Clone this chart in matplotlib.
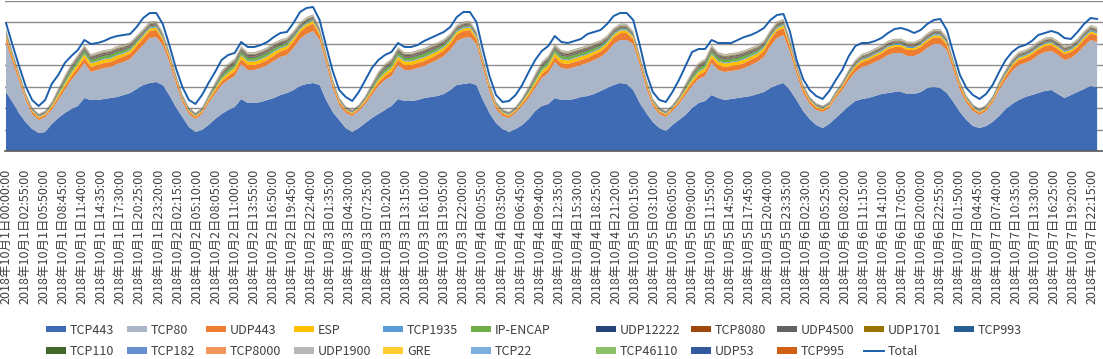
## stacked traffic by protocol, 2018/10/1 - 10/7, hourly values
import datetime
import matplotlib
matplotlib.use('Agg')
import matplotlib.pyplot as plt
from matplotlib.ticker import MultipleLocator

plt.rcParams['font.family'] = ['Noto Sans CJK JP', 'DejaVu Sans']

## series names (stacked bottom to top) and colours
names = ['TCP443', 'TCP80', 'UDP443', 'ESP', 'TCP1935', 'IP-ENCAP', 'UDP12222',
         'TCP8080', 'UDP4500', 'UDP1701', 'TCP993', 'TCP110', 'TCP182', 'TCP8000',
         'UDP1900', 'GRE', 'TCP22', 'TCP46110', 'UDP53', 'TCP995']
colors = ['#3f6bb5', '#aab6c8', '#ed7d31', '#ffc000', '#5b9bd5', '#70ad47', '#264478',
          '#9e480e', '#636363', '#997300', '#255e91', '#43682b', '#698ed0', '#f1975a',
          '#b7b7b7', '#ffcd33', '#7cafdd', '#8cc168', '#335aa1', '#d26012']

## hourly values (one row per day)
tcp443 = [
    59,49,38,29,22,18,19,27,33,38,42,45,53,51,51,52,53,54,56,58,62,66,68,69,
    66,56,44,34,24,19,21,26,32,37,41,44,52,48,48,49,51,53,56,58,61,65,67,68,
    66,51,39,31,23,19,23,28,33,37,41,45,52,50,50,51,53,54,55,57,61,66,67,68,
    66,51,38,28,22,19,22,26,32,40,45,47,53,51,51,52,54,55,57,60,63,66,68,67,
    61,48,38,29,23,20,26,31,36,43,48,50,56,53,51,52,53,54,55,57,59,63,66,68,
    61,51,40,32,26,23,27,33,39,45,50,52,53,55,57,58,59,59,57,57,59,63,64,63,
    58,49,39,31,25,23,25,29,35,42,47,51,54,56,58,60,61,57,53,56,59,62,65,64]
tcp80 = [
    50,40,32,22,15,13,15,14,18,23,29,34,35,28,30,31,31,33,33,34,37,40,45,45,
    40,33,24,15,13,13,16,22,25,29,30,31,35,33,33,34,35,37,38,38,42,47,50,52,
    45,37,24,15,15,16,17,19,23,28,30,30,34,31,31,32,32,34,36,38,40,44,46,46,
    41,32,21,14,13,14,16,19,21,23,28,31,36,32,31,32,32,33,34,34,36,41,43,44,
    46,38,25,16,14,14,14,16,20,22,24,25,32,28,28,28,28,29,31,32,35,42,47,48,
    38,26,18,15,15,16,16,20,22,26,29,32,33,34,35,38,39,39,38,38,39,40,43,44,
    43,32,22,17,15,13,15,19,26,29,33,35,34,35,38,39,39,39,38,37,39,43,46,45]
udp443 = [
    5,4.5,4,3,2.5,2,2,2.5,3,3.5,4,4.5,5,5,5,5,5,5,5.5,5.5,6,6.5,7,7,
    5,4.5,4,3,2.5,2,2,2.5,3,3.5,4,4.5,5,5,5,5,5,5.5,5.5,6,6.5,7,7.5,7.5,
    5,4.5,4,3,2.5,2,2,2.5,3,3.5,4,4.5,5,5,5,5,5,5,5.5,5.5,6,6.5,7,7,
    5,4.5,4,3,2.5,2,2,2.5,3,3.5,4,4.5,5,5,5,5,5,5,5.5,5.5,6,6.5,7,7,
    5,4.5,4,3,2.5,2,2,2.5,3,3.5,4,4.5,5,5,5,5,5,5,5.5,5.5,6,6.5,7,7,
    5,4.5,4,3,2.5,2,2,2.5,3,4,4.5,5,5,5.5,5.5,6,6,6,6,6,6,6.5,6.5,6.5,
    5,4.5,4,3,2.5,2,2,2.5,3,4,4.5,5,5,5.5,5.5,6,6,6,6,6,6,6.5,6.5,6.5]
esp = [
    2,1.8,1.5,1.2,1,1,1,1.5,2,2.5,3,3.5,3.5,3.5,3.5,3.5,3.5,3.5,3,3,3,2.5,2.5,2.5,
    2,1.8,1.5,1.2,1,1,1,1.5,2,2.5,3,3.5,3.5,3.5,3.5,3.5,3.5,3.5,3,3,3,2.5,2.5,2.5,
    2,1.8,1.5,1.2,1,1,1,1.5,2,2.5,3,3.5,3.5,3.5,3.5,3.5,3.5,3.5,3,3,3,2.5,2.5,2.5,
    2,1.8,1.5,1.2,1,1,1,1.5,2,2.5,3,3.5,3.5,3.5,3.5,3.5,3.5,3.5,3,3,3,2.5,2.5,2.5,
    2,1.8,1.5,1.2,1,1,1,1.5,2,2.5,3,3.5,3.5,3.5,3.5,3.5,3.5,3.5,3,3,3,2.5,2.5,2.5,
    2,1.8,1.5,1.2,1,1,1,1.2,1.5,1.5,2,2,2,2,2,2,2,2,2,2,2,2,2,2,
    2,1.8,1.5,1.2,1,1,1,1.2,1.5,1.5,2,2,2,2,2,2,2,2,2,2,2,2,2,2]
tcp1935 = [
    .8,.7,.6,.5,.5,.5,.5,.5,.6,.7,.8,.8,.8,.8,.8,.8,.8,.9,.9,1,1,1,1,1,
    .8,.7,.6,.5,.5,.5,.5,.5,.6,.7,.8,.8,.8,.8,.8,.8,.8,.9,.9,1,1,1,1,1,
    .8,.7,.6,.5,.5,.5,.5,.5,.6,.7,.8,.8,.8,.8,.8,.8,.8,.9,.9,1,1,1,1,1,
    .8,.7,.6,.5,.5,.5,.5,.5,.6,.7,.8,.8,.8,.8,.8,.8,.8,.9,.9,1,1,1,1,1,
    .8,.7,.6,.5,.5,.5,.5,.5,.6,.7,.8,.8,.8,.8,.8,.8,.8,.9,.9,1,1,1,1,1,
    .8,.7,.6,.5,.5,.5,.5,.5,.6,.7,.8,.9,1,1,1,1,1,1,1,1,1,1.2,1.2,1.2,
    .8,.7,.6,.5,.5,.5,.5,.5,.6,.7,.8,.9,1,1,1,1,1,1,1,1,1,1.2,1.2,1.2]
ipencap = [
    .5,.4,.3,.3,.3,.3,.3,.6,1.5,2.5,3,3,3,3,3,3,3,3,2.5,2,1.5,1.2,1,.8,
    .6,.4,.3,.3,.3,.3,.3,.6,1.5,2.5,3,3,3,3,3,3,3,3,2.5,2,1.5,1.2,1,.8,
    .6,.4,.3,.3,.3,.3,.3,.6,1.5,2.5,3,3,3,3,3,3,3,3,2.5,2,1.5,1.2,1,.8,
    .6,.4,.3,.3,.3,.3,.3,.6,1.5,2.5,3,3,3,3,3,3,3,3,2.5,2,1.5,1.2,1,.8,
    .6,.4,.3,.3,.3,.3,.3,.6,1.5,2.5,3,3,3,3,3,3,3,3,2.5,2,1.5,1.2,1,.8,
    .6,.3,.3,.3,.3,.3,.3,.3,.4,.4,.5,.5,.5,.5,.5,.5,.5,.5,.5,.5,.5,.5,.5,.5,
    .5,.3,.3,.3,.3,.3,.3,.3,.4,.4,.5,.5,.5,.5,.5,.5,.5,.5,.5,.5,.5,.5,.5,.5]
udp12222 = [
    .5,.4,.3,.3,.3,.3,.3,.4,.6,.8,.8,.8,.8,.8,.8,.8,.8,.8,.8,.8,.7,.7,.7,.6,
    .5,.4,.3,.3,.3,.3,.3,.4,.6,.8,.8,.8,.8,.8,.8,.8,.8,.8,.8,.8,.7,.7,.7,.6,
    .5,.4,.3,.3,.3,.3,.3,.4,.6,.8,.8,.8,.8,.8,.8,.8,.8,.8,.8,.8,.7,.7,.7,.6,
    .5,.4,.3,.3,.3,.3,.3,.4,.6,.8,.8,.8,.8,.8,.8,.8,.8,.8,.8,.8,.7,.7,.7,.6,
    .5,.4,.3,.3,.3,.3,.3,.4,.6,.8,.8,.8,.8,.8,.8,.8,.8,.8,.8,.8,.7,.7,.7,.6,
    .5,.4,.3,.3,.3,.3,.3,.3,.4,.5,.5,.5,.5,.5,.5,.5,.5,.5,.5,.5,.5,.5,.5,.5,
    .5,.4,.3,.3,.3,.3,.3,.3,.4,.5,.5,.5,.5,.5,.5,.5,.5,.5,.5,.5,.5,.5,.5,.5]
tcp8080 = [
    .5,.4,.4,.3,.3,.3,.3,.4,.5,.6,.7,.7,.7,.7,.7,.7,.7,.7,.7,.7,.6,.6,.6,.6,
    .5,.4,.4,.3,.3,.3,.3,.4,.5,.6,.7,.7,.7,.7,.7,.7,.7,.7,.7,.7,.6,.6,.6,.6,
    .5,.4,.4,.3,.3,.3,.3,.4,.5,.6,.7,.7,.7,.7,.7,.7,.7,.7,.7,.7,.6,.6,.6,.6,
    .5,.4,.4,.3,.3,.3,.3,.4,.5,.6,.7,.7,.7,.7,.7,.7,.7,.7,.7,.7,.6,.6,.6,.6,
    .5,.4,.4,.3,.3,.3,.3,.4,.5,.6,.7,.7,.7,.7,.7,.7,.7,.7,.7,.7,.6,.6,.6,.6,
    .5,.4,.3,.3,.3,.3,.3,.3,.4,.5,.5,.6,.6,.6,.6,.6,.6,.6,.6,.6,.6,.6,.6,.6,
    .5,.4,.3,.3,.3,.3,.3,.3,.4,.5,.5,.6,.6,.6,.6,.6,.6,.6,.6,.6,.6,.6,.6,.6]
udp4500 = [
    1,.9,.8,.7,.7,.7,.7,.8,1,1.2,1.3,1.3,1.3,1.3,1.3,1.3,1.3,1.2,1.2,1.1,1.1,1,1,1,
    1,.9,.8,.7,.7,.7,.7,.8,1,1.2,1.3,1.3,1.3,1.3,1.3,1.3,1.3,1.2,1.2,1.1,1.1,1,1,1,
    1,.9,.8,.7,.7,.7,.7,.8,1,1.2,1.3,1.3,1.3,1.3,1.3,1.3,1.3,1.2,1.2,1.1,1.1,1,1,1,
    1,.9,.8,.7,.7,.7,.7,.8,1,1.2,1.3,1.3,1.3,1.3,1.3,1.3,1.3,1.2,1.2,1.1,1.1,1,1,1,
    1,.9,.8,.7,.7,.7,.7,.8,1,1.2,1.3,1.3,1.3,1.3,1.3,1.3,1.3,1.2,1.2,1.1,1.1,1,1,1,
    1,.9,.8,.7,.7,.7,.7,.7,.8,.9,1,1,1,1,1,1,1,1,1,1,1,1,1,1,
    1,.9,.8,.7,.7,.7,.7,.7,.8,.9,1,1,1,1,1,1,1,1,1,1,1,1,1,1]
udp1701 = [
    .4,.3,.3,.2,.2,.2,.2,.3,.4,.5,.5,.5,.5,.5,.5,.5,.5,.5,.5,.5,.4,.4,.4,.4,
    .4,.3,.3,.2,.2,.2,.2,.3,.4,.5,.5,.5,.5,.5,.5,.5,.5,.5,.5,.5,.4,.4,.4,.4,
    .4,.3,.3,.2,.2,.2,.2,.3,.4,.5,.5,.5,.5,.5,.5,.5,.5,.5,.5,.5,.4,.4,.4,.4,
    .4,.3,.3,.2,.2,.2,.2,.3,.4,.5,.5,.5,.5,.5,.5,.5,.5,.5,.5,.5,.4,.4,.4,.4,
    .4,.3,.3,.2,.2,.2,.2,.3,.4,.5,.5,.5,.5,.5,.5,.5,.5,.5,.5,.5,.4,.4,.4,.4,
    .4,.3,.3,.2,.2,.2,.2,.2,.3,.3,.4,.4,.4,.4,.4,.4,.4,.4,.4,.4,.4,.4,.4,.4,
    .4,.3,.3,.2,.2,.2,.2,.2,.3,.3,.4,.4,.4,.4,.4,.4,.4,.4,.4,.4,.4,.4,.4,.4]
# the ten thinnest layers, about 0.1-0.3 each
small_a = [
    .2,.1,.1,.1,.1,.1,.1,.1,.2,.2,.2,.2,.2,.2,.2,.2,.2,.2,.2,.2,.2,.2,.2,.2,
    .2,.1,.1,.1,.1,.1,.1,.1,.2,.2,.2,.2,.2,.2,.2,.2,.2,.2,.2,.2,.2,.2,.2,.2,
    .2,.1,.1,.1,.1,.1,.1,.1,.2,.2,.2,.2,.2,.2,.2,.2,.2,.2,.2,.2,.2,.2,.2,.2,
    .2,.1,.1,.1,.1,.1,.1,.1,.2,.2,.2,.2,.2,.2,.2,.2,.2,.2,.2,.2,.2,.2,.2,.2,
    .2,.1,.1,.1,.1,.1,.1,.1,.2,.2,.2,.2,.2,.2,.2,.2,.2,.2,.2,.2,.2,.2,.2,.2,
    .2,.1,.1,.1,.1,.1,.1,.1,.1,.2,.2,.2,.2,.2,.2,.2,.2,.2,.2,.2,.2,.2,.2,.2,
    .2,.1,.1,.1,.1,.1,.1,.1,.1,.2,.2,.2,.2,.2,.2,.2,.2,.2,.2,.2,.2,.2,.2,.2]
small_b = [
    .3,.2,.2,.1,.1,.1,.1,.2,.2,.3,.3,.3,.3,.3,.3,.3,.3,.3,.3,.3,.3,.3,.3,.3,
    .3,.2,.2,.1,.1,.1,.1,.2,.2,.3,.3,.3,.3,.3,.3,.3,.3,.3,.3,.3,.3,.3,.3,.3,
    .3,.2,.2,.1,.1,.1,.1,.2,.2,.3,.3,.3,.3,.3,.3,.3,.3,.3,.3,.3,.3,.3,.3,.3,
    .3,.2,.2,.1,.1,.1,.1,.2,.2,.3,.3,.3,.3,.3,.3,.3,.3,.3,.3,.3,.3,.3,.3,.3,
    .3,.2,.2,.1,.1,.1,.1,.2,.2,.3,.3,.3,.3,.3,.3,.3,.3,.3,.3,.3,.3,.3,.3,.3,
    .3,.2,.2,.1,.1,.1,.1,.1,.2,.2,.3,.3,.3,.3,.3,.3,.3,.3,.3,.3,.3,.3,.3,.3,
    .3,.2,.2,.1,.1,.1,.1,.1,.2,.2,.3,.3,.3,.3,.3,.3,.3,.3,.3,.3,.3,.3,.3,.3]
tcp993 = small_a
tcp110 = small_a
tcp182 = small_a
tcp8000 = small_b
udp1900 = small_b
gre = small_a
tcp22 = small_a
tcp46110 = small_a
udp53 = small_a
tcp995 = small_a
total = [
    128,106,85,65,51,45,51,67,76,88,95,101,111,107,108,110,113,115,116,117,124,133,138,138,
    127,106,83,64,51,47,56,68,79,91,96,98,109,104,104,106,109,114,118,119,128,139,143,144,
    131,105,80,61,54,50,59,71,83,91,96,99,108,104,104,106,110,113,116,119,124,134,139,139,
    129,101,75,56,49,50,56,66,79,91,100,105,115,109,108,110,112,117,119,121,127,135,138,138,
    131,106,78,59,51,49,59,71,85,99,102,102,111,108,108,108,111,114,116,119,123,131,136,137,
    119,91,72,61,55,52,60,71,81,95,105,108,108,110,113,118,122,123,121,118,121,127,131,132,
    121,98,76,63,56,52,57,66,79,91,99,104,106,110,116,118,120,118,113,112,119,127,133,132]

series = [tcp443, tcp80, udp443, esp, tcp1935, ipencap, udp12222, tcp8080, udp4500,
          udp1701, tcp993, tcp110, tcp182, tcp8000, udp1900, gre, tcp22, tcp46110,
          udp53, tcp995]

## x axis: hours from 10/1 00:00, labels every 2h55m
hours = list(range(len(total)))
start = datetime.datetime(2018, 10, 1)
tick_minutes = list(range(0, 168 * 60, 175))
tick_labels = []
for m in tick_minutes:
    t = start + datetime.timedelta(minutes=m)
    tick_labels.append('{}年{}月{}日{}'.format(t.year, t.month, t.day, t.strftime('%H:%M:%S')))

## legend layout: two rows, column left edges in pixels
legend_cols = [['TCP443', 'TCP110'], ['TCP80', 'TCP182'], ['UDP443', 'TCP8000'],
               ['ESP', 'UDP1900'], ['TCP1935', 'GRE'], ['IP-ENCAP', 'TCP22'],
               ['UDP12222', 'TCP46110'], ['TCP8080', 'UDP53'], ['UDP4500', 'TCP995'],
               ['UDP1701', 'Total'], ['TCP993']]
legend_x = [46, 127, 206, 294, 383, 471, 596, 691, 777, 864, 954]

## draw
fig = plt.figure(figsize=(11.03, 3.59), dpi=100)
ax = fig.add_axes([5 / 1103, 208 / 359, 1098 / 1103, 150 / 359])

polys = ax.stackplot(hours, *series, colors=colors, labels=names, linewidth=0)
line, = ax.plot(hours, total, color='#1c5fad', lw=1.4, label='Total')

ax.set_xlim(-0.15, 167.9)
ax.set_ylim(0, 150)
ax.yaxis.set_major_locator(MultipleLocator(150 / 7))
ax.grid(axis='y', color='#8c8c8c', lw=1.0)
ax.set_axisbelow(True)
ax.tick_params(axis='y', left=False, labelleft=False)
for s in ['left', 'right', 'top']:
    ax.spines[s].set_visible(False)
ax.spines['bottom'].set_color('#595959')
ax.spines['bottom'].set_linewidth(1.2)

ax.set_xticks([m / 60 for m in tick_minutes])
ax.set_xticklabels(tick_labels, rotation=90, fontsize=9, color='#404040')
ax.tick_params(axis='x', length=0, pad=13)

handle_of = dict(zip(names, polys))
handle_of['Total'] = line
for col, x in zip(legend_cols, legend_x):
    leg = fig.legend([handle_of[n] for n in col], col, loc='upper left',
                     bbox_to_anchor=(x / 1103, 1 - 323.5 / 359), frameon=False,
                     borderpad=0, borderaxespad=0, fontsize=9, handlelength=1.6,
                     handleheight=0.45, handletextpad=0.3, labelspacing=0.65)
    for t in leg.get_texts():
        t.set_color('#404040')

fig.savefig('out.png', dpi=100)
